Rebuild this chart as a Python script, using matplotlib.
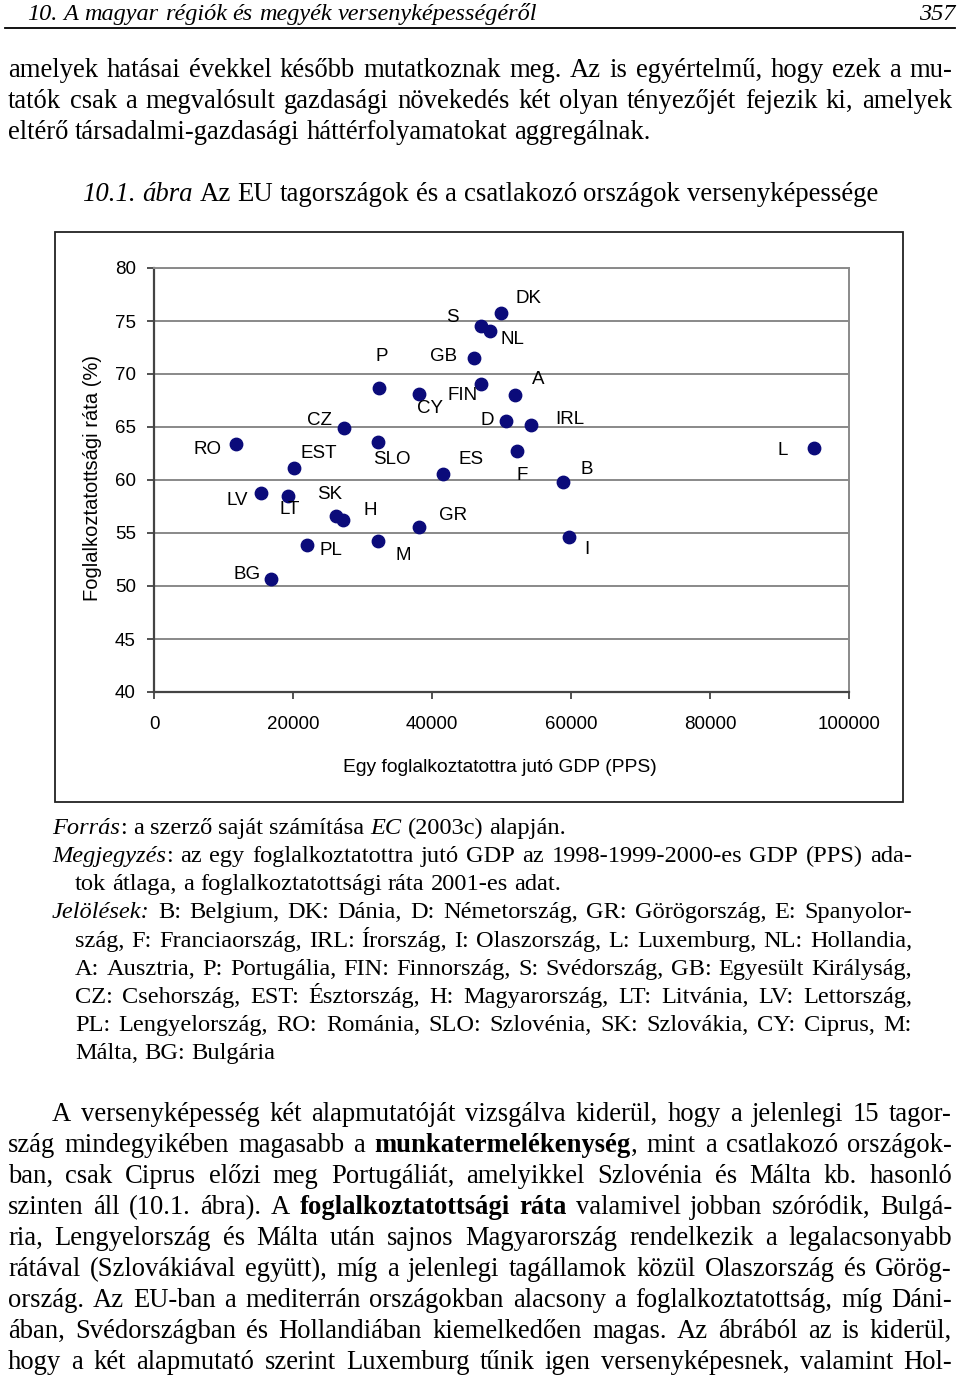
import matplotlib
matplotlib.use('Agg')
import matplotlib.pyplot as plt
from matplotlib.lines import Line2D
from matplotlib.patches import Rectangle

# --- chart data ---
codes = ['RO', 'LV', 'LT', 'EST', 'BG', 'PL', 'SK', 'H', 'CZ', 'SLO', 'P', 'M', 'CY', 'GR',
         'ES', 'GB', 'FIN', 'S', 'NL', 'DK', 'D', 'A', 'IRL', 'F', 'B', 'I', 'L']
gdp = [11800, 15400, 19300, 20200, 16800, 22000, 26200, 27200, 27400, 32200, 32400, 32200,
       38200, 38200, 41600, 46100, 47000, 47100, 48300, 49900, 50600, 51900, 54300, 52200,
       58800, 59700, 94900]
rate = [63.4, 58.8, 58.5, 61.1, 50.7, 53.9, 56.6, 56.2, 64.9, 63.6, 68.7, 54.2, 68.1, 55.6,
        60.6, 71.5, 69.1, 74.5, 74.1, 75.8, 65.6, 68.0, 65.2, 62.7, 59.8, 54.6, 63.0]
xticks = [0, 20000, 40000, 60000, 80000, 100000]
yticks = [40, 45, 50, 55, 60, 65, 70, 75, 80]
xlabel = 'Egy foglalkoztatottra jutó GDP (PPS)'
ylabel = 'Foglalkoztatottsági ráta (%)'

# label offsets (pixels, right / down) so the labels sit like in the scan
lab_off = {'RO': (-29, 6), 'LV': (-24, 8), 'LT': (2, 14), 'EST': (24, -15), 'BG': (-24, -4),
           'PL': (24, 6), 'SK': (-6, -22), 'H': (27, -10), 'CZ': (-25, -8), 'SLO': (14, 18),
           'P': (3, -31), 'M': (25, 14), 'CY': (11, 14), 'GR': (34, -11), 'ES': (28, -14),
           'GB': (-31, -2), 'FIN': (-18, 12), 'S': (-29, -9), 'NL': (23, 9), 'DK': (28, -14),
           'D': (-18, 0), 'A': (24, -16), 'IRL': (38, -5), 'F': (5, 24), 'B': (24, -13),
           'I': (18, 12), 'L': (-31, 2)}

# --- page text ---
header = '10. A magyar régiók és megyék versenyképességéről'
page_no = '357'
top_par = [
    'amelyek hatásai évekkel később mutatkoznak meg. Az is egyértelmű, hogy ezek a mu-',
    'tatók csak a megvalósult gazdasági növekedés két olyan tényezőjét fejezik ki, amelyek',
    'eltérő társadalmi-gazdasági háttérfolyamatokat aggregálnak.',
]
caption = '_10.1. _ábra Az EU tagországok és a csatlakozó országok versenyképessége'
notes = [
    '_Forrás|: a szerző saját számítása _EC (2003c) alapján.',
    '_Megjegyzés|: az egy foglalkoztatottra jutó GDP az 1998-1999-2000-es GDP (PPS) ada-',
    'tok átlaga, a foglalkoztatottsági ráta 2001-es adat.',
    '_Jelölések: B: Belgium, DK: Dánia, D: Németország, GR: Görögország, E: Spanyolor-',
    'szág, F: Franciaország, IRL: Írország, I: Olaszország, L: Luxemburg, NL: Hollandia,',
    'A: Ausztria, P: Portugália, FIN: Finnország, S: Svédország, GB: Egyesült Királyság,',
    'CZ: Csehország, EST: Észtország, H: Magyarország, LT: Litvánia, LV: Lettország,',
    'PL: Lengyelország, RO: Románia, SLO: Szlovénia, SK: Szlovákia, CY: Ciprus, M:',
    'Málta, BG: Bulgária',
]
bottom_par = [
    'A versenyképesség két alapmutatóját vizsgálva kiderül, hogy a jelenlegi 15 tagor-',
    'szág mindegyikében magasabb a *munkatermelékenység|, mint a csatlakozó országok-',
    'ban, csak Ciprus előzi meg Portugáliát, amelyikkel Szlovénia és Málta kb. hasonló',
    'szinten áll (10.1. ábra). A *foglalkoztatottsági *ráta valamivel jobban szóródik, Bulgá-',
    'ria, Lengyelország és Málta után sajnos Magyarország rendelkezik a legalacsonyabb',
    'rátával (Szlovákiával együtt), míg a jelenlegi tagállamok közül Olaszország és Görög-',
    'ország. Az EU-ban a mediterrán országokban alacsony a foglalkoztatottság, míg Dáni-',
    'ában, Svédországban és Hollandiában kiemelkedően magas. Az ábrából az is kiderül,',
    'hogy a két alapmutató szerint Luxemburg tűnik igen versenyképesnek, valamint Hol-',
]

W, H = 960, 1379
plt.rcParams['font.family'] = ['Liberation Sans', 'DejaVu Sans']
fig = plt.figure(figsize=(W / 100, H / 100), dpi=100)
renderer = fig.canvas.get_renderer()
SERIF = ['Liberation Serif', 'DejaVu Serif']


def fx(x):
    return x / W


def fy(y):
    return 1 - y / H


def put_line(line, x0, x1, y, size, align='justify', italic=False):
    # each word is placed on its own so that the line can be justified like the book
    words = []
    for tok in line.split(' '):
        segs = []
        for s in tok.split('|'):
            st, wt = ('italic' if italic else 'normal'), 'normal'
            if s.startswith('_'):
                st, s = 'italic', s[1:]
            elif s.startswith('*'):
                wt, s = 'bold', s[1:]
            t = fig.text(0, 0, s, fontsize=size, family=SERIF, style=st, weight=wt,
                         va='baseline', ha='left')
            segs.append((t, t.get_window_extent(renderer).width))
        words.append(segs)
    widths = [sum(w for _, w in segs) for segs in words]
    space = 0.25 * size * 100 / 72
    natural = sum(widths) + space * (len(words) - 1)
    if align == 'justify' and len(words) > 1:
        gap = (x1 - x0 - sum(widths)) / (len(words) - 1)
        x = x0
    else:
        gap = space
        x = {'left': x0, 'right': x1 - natural, 'center': (x0 + x1 - natural) / 2}.get(align, x0)
    for segs, wd in zip(words, widths):
        for t, w in segs:
            t.set_position((fx(x), fy(y)))
            x += w
        x += gap


# header and rule
put_line(header, 27, 600, 20, 17.5, align='left', italic=True)
put_line(page_no, 900, 955, 20, 17.5, align='right', italic=True)
fig.add_artist(Line2D([fx(5), fx(955)], [fy(28), fy(28)], color='black', lw=1.3))

BODY = 19.2
for i, ln in enumerate(top_par):
    put_line(ln, 8, 952, 77 + 31 * i, BODY, align='justify' if i < 2 else 'left')

put_line(caption, 80, 880, 201, 19.3, align='center')

# chart frame
fig.add_artist(Rectangle((fx(55), fy(802)), 848 / W, 570 / H, fill=False,
                         ec='#222222', lw=1.3, transform=fig.transFigure))

ax = fig.add_axes([fx(154), fy(692), 695 / W, 424 / H])
ax.scatter(gdp, rate, s=80, color='#0b0b7a', zorder=3, clip_on=False)
for c, xv, yv in zip(codes, gdp, rate):
    dx, dy = lab_off[c]
    ax.annotate(c, (xv, yv), xytext=(dx, -dy), textcoords='offset pixels',
                ha='center', va='center', fontsize=13.5, color='black')
ax.set_xlim(0, 100000)
ax.set_ylim(40, 80)
ax.set_xticks(xticks)
ax.set_xticklabels([str(v) for v in xticks])
ax.set_yticks(yticks)
ax.set_yticklabels([str(v) for v in yticks])
ax.tick_params(axis='x', labelsize=13.5, length=5, width=1.2, pad=12, colors='#333333',
               labelcolor='black')
ax.tick_params(axis='y', labelsize=13.5, length=5, width=1.2, pad=8, colors='#333333',
               labelcolor='black')
ax.grid(axis='y', color='#808080', lw=1.3)
ax.set_axisbelow(True)
for side in ['left', 'bottom']:
    ax.spines[side].set_color('#444444')
    ax.spines[side].set_linewidth(1.6)
for side in ['top', 'right']:
    ax.spines[side].set_color('#8a8a8a')
    ax.spines[side].set_linewidth(1.4)
fig.text(fx(500), fy(768), xlabel, fontsize=13.9, ha='center', va='center')
fig.text(fx(93), fy(478), ylabel, fontsize=14.5, ha='center', va='center', rotation=90)

# notes under the figure
NOTE = 17.6
note_y = [834, 862, 890, 918, 947, 975, 1003, 1031, 1059]
note_x0 = [52, 52, 75, 52, 75, 75, 75, 75, 75]
note_al = ['left', 'justify', 'left', 'justify', 'justify', 'justify', 'justify', 'justify', 'left']
for ln, y, x0, al in zip(notes, note_y, note_x0, note_al):
    put_line(ln, x0, 912, y, NOTE, align=al)

# closing paragraph
for i, ln in enumerate(bottom_par):
    put_line(ln, 52 if i == 0 else 8, 952, 1121 + 31 * i, BODY)

fig.savefig('out.png', dpi=100)
